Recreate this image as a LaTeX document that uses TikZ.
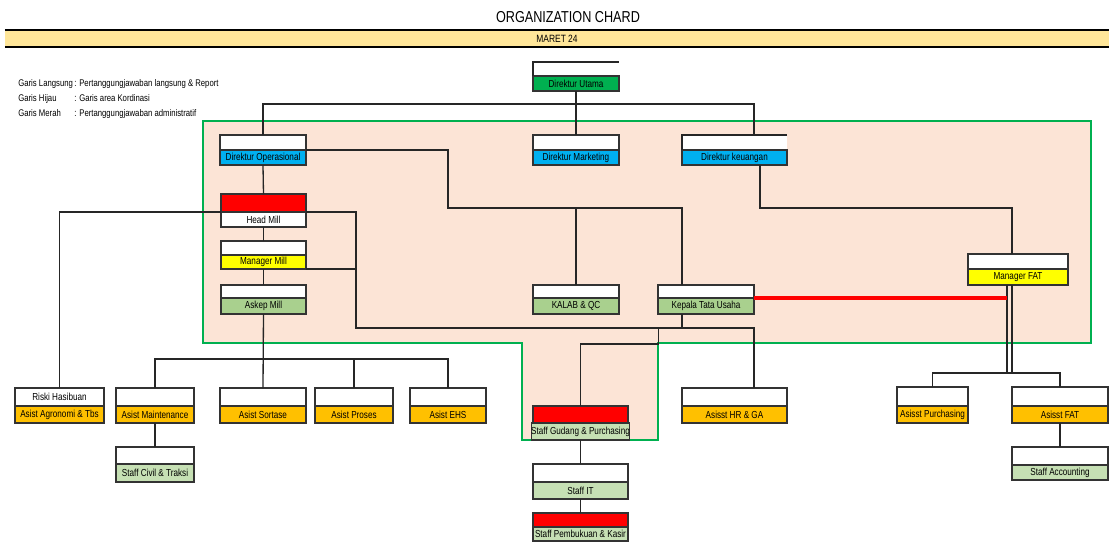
\documentclass[tikz,border=0pt]{standalone}
\usepackage{fontspec}
\setmainfont{Liberation Sans}[FakeStretch=0.8]
\usetikzlibrary{positioning, backgrounds}
\definecolor{areafill}{HTML}{FCE4D6}
\definecolor{areagreen}{HTML}{00B050}
\definecolor{topgreen}{HTML}{00B050}
\definecolor{dirblue}{HTML}{00B0F0}
\definecolor{mgryellow}{HTML}{FFFF00}
\definecolor{kasgreen}{HTML}{A9D08E}
\definecolor{staffgreen}{HTML}{C6E0B4}
\definecolor{asistorange}{HTML}{FFC000}
\definecolor{bandyellow}{HTML}{FFE699}
\newcommand{\legendkey}[1]{\makebox[1.12cm][l]{#1}}

\begin{document}
\begin{tikzpicture}[
    x=0.02cm, y=-0.02cm,
    cell/.style={rectangle, draw=black!80, line width=0.7pt, inner sep=0pt, outer sep=0pt, fill=white, text centered, font=\fontsize{5.8}{6.5}\selectfont, minimum width=1.72cm, minimum height=0.3cm},
    boxw/.style={minimum width=#1*0.02cm},
    boxh/.style={minimum height=#1*0.02cm},
    link/.style={draw=black!85, line width=0.75pt},
    adminline/.style={draw=red, line width=2.6pt},
    area/.style={fill=areafill, draw=areagreen, line width=1.4pt},
    band/.style={rectangle, fill=bandyellow, inner sep=0pt, minimum width=22.08cm, minimum height=0.32cm, font=\fontsize{6}{7}\selectfont},
    heavy/.style={draw=black, line width=1.5pt},
    legend/.style={anchor=west, inner sep=0pt, font=\fontsize{5.5}{6}\selectfont},
]
\useasboundingbox (0,0) rectangle (1109,542);

% Header
\node[font=\fontsize{9}{10}\selectfont] (title) at (568,17) {ORGANIZATION CHARD};
\node[band] (maret) at (557,38.5) {MARET 24};
\draw[heavy] (maret.north west) -- (maret.north east);
\draw[heavy] (maret.south west) -- (maret.south east);

% Legend
\node[legend] (leg1) at (18,84) {\legendkey{Garis Langsung}: Pertanggungjawaban langsung \& Report};
\node[legend] (leg2) at (18,99) {\legendkey{Garis Hijau}: Garis area Kordinasi};
\node[legend] (leg3) at (18,114) {\legendkey{Garis Merah}: Pertanggungjawaban administratif};

% Direksi
\node[cell, draw=none, boxh=14, anchor=north west] (dutama-up) at (533,62) {};
\node[cell, fill=topgreen, boxh=15, below=0pt of dutama-up] (dutama) {Direktur Utama};
\node[cell, anchor=north west] (dops-up) at (220,135) {};
\node[cell, fill=dirblue, below=0pt of dops-up] (dops) {Direktur Operasional};
\node[cell, anchor=north west] (dmkt-up) at (533,135) {};
\node[cell, fill=dirblue, below=0pt of dmkt-up] (dmkt) {Direktur Marketing};
\node[cell, draw=none, boxw=105, anchor=north west] (dkeu-up) at (682,135) {};
\node[cell, fill=dirblue, boxw=105, below=0pt of dkeu-up] (dkeu) {Direktur keuangan};
\draw[link] (dutama-up.north east) -- (dutama-up.north west) -- (dutama-up.south west);
\draw[link] (dkeu-up.north east) -- (dkeu-up.north west) -- (dkeu-up.south west);

% Mill
\node[cell, fill=red, boxw=85, boxh=18, anchor=north west] (headmill-up) at (221,194) {};
\node[cell, boxw=85, below=0pt of headmill-up] (headmill) {Head Mill};
\node[cell, boxw=85, boxh=14, anchor=north west] (mgrmill-up) at (221,241) {};
\node[cell, fill=mgryellow, boxw=85, boxh=14, below=0pt of mgrmill-up] (mgrmill) {Manager Mill};
\node[cell, boxw=85, boxh=13, anchor=north west] (askep-up) at (221,285) {};
\node[cell, fill=kasgreen, boxw=85, boxh=16, below=0pt of askep-up] (askep) {Askep Mill};

% Middle row
\node[cell, boxh=13, anchor=north west] (kalab-up) at (533,285) {};
\node[cell, fill=kasgreen, boxh=16, below=0pt of kalab-up] (kalab) {KALAB \& QC};
\node[cell, boxw=96, boxh=13, anchor=north west] (kepala-up) at (658,285) {};
\node[cell, fill=kasgreen, boxw=96, boxh=16, below=0pt of kepala-up] (kepala) {Kepala Tata Usaha};
\node[cell, boxw=100, anchor=north west] (mgrfat-up) at (968,254) {};
\node[cell, fill=mgryellow, boxw=100, boxh=16, below=0pt of mgrfat-up] (mgrfat) {Manager FAT};

% Asisten
\node[cell, boxw=89, boxh=18, anchor=north west] (riski-up) at (15,388) {Riski Hasibuan};
\node[cell, fill=asistorange, boxw=89, boxh=17, below=0pt of riski-up] (riski) {Asist Agronomi \& Tbs};
\node[cell, boxw=78, boxh=18, anchor=north west] (maint-up) at (116,388) {};
\node[cell, fill=asistorange, boxw=78, boxh=17, below=0pt of maint-up] (maint) {Asist Maintenance};
\node[cell, boxh=18, anchor=north west] (sortase-up) at (220,388) {};
\node[cell, fill=asistorange, boxh=17, below=0pt of sortase-up] (sortase) {Asist Sortase};
\node[cell, boxw=78, boxh=18, anchor=north west] (proses-up) at (315,388) {};
\node[cell, fill=asistorange, boxw=78, boxh=17, below=0pt of proses-up] (proses) {Asist Proses};
\node[cell, boxw=76, boxh=18, anchor=north west] (ehs-up) at (410,388) {};
\node[cell, fill=asistorange, boxw=76, boxh=17, below=0pt of ehs-up] (ehs) {Asist EHS};
\node[cell, boxw=78, boxh=17, anchor=north west] (civil-up) at (116,447) {};
\node[cell, fill=staffgreen, boxw=78, boxh=18, below=0pt of civil-up] (civil) {Staff Civil \& Traksi};
\node[cell, boxw=105, boxh=18, anchor=north west] (hrga-up) at (682,388) {};
\node[cell, fill=asistorange, boxw=105, boxh=17, below=0pt of hrga-up] (hrga) {Asisst HR \& GA};
\node[cell, boxw=71, boxh=19, anchor=north west] (purch-up) at (897,387) {};
\node[cell, fill=asistorange, boxw=71, boxh=17, below=0pt of purch-up] (purch) {Asisst Purchasing};
\node[cell, boxw=96, boxh=19, anchor=north west] (asfat-up) at (1012,387) {};
\node[cell, fill=asistorange, boxw=96, boxh=17, below=0pt of asfat-up] (asfat) {Asisst FAT};
\node[cell, boxw=96, boxh=18, anchor=north west] (acct-up) at (1012,447) {};
\node[cell, fill=staffgreen, boxw=96, boxh=15, below=0pt of acct-up] (acct) {Staff Accounting};

% Staff
\node[cell, fill=red, boxw=95, boxh=17, anchor=north west] (gudang-up) at (533,406) {};
\node[cell, fill=staffgreen, boxw=95, boxh=17, below=0pt of gudang-up] (gudang) {Staff Gudang \& Purchasing};
\node[cell, boxw=95, boxh=18, anchor=north west] (it-up) at (533,464) {};
\node[cell, fill=staffgreen, boxw=95, boxh=17, below=0pt of it-up] (it) {Staff IT};
\node[cell, fill=red, boxw=95, boxh=14, anchor=north west] (kasir-up) at (533,513) {};
\node[cell, fill=staffgreen, boxw=95, boxh=14, below=0pt of kasir-up] (kasir) {Staff Pembukuan \& Kasir};

% Area koordinasi
\begin{scope}[on background layer]
\fill[white] (0,0) rectangle (1109,542);
\filldraw[area] (203,121) -- (1091,121) -- (1091,343) -- (658,343) -- (658,440) -- (522,440) -- (522,343) -- (203,343) -- cycle;
\end{scope}

% Garis langsung
\draw[link] (dops-up.north) -- ++(0,-31) -| ([xshift=0.39cm]dkeu-up.north);
\draw[link] (dutama.south) -- (dmkt-up.north);
\draw[link] (dops.south) -- (headmill-up.north);
\draw[link] (headmill.south) -- (mgrmill-up.north);
\draw[link] (mgrmill.south) -- (askep-up.north);
\draw[link] (askep.south) -- (sortase-up.north);
\draw[link] (maint-up.north) -- ++(0,-29) -| (ehs-up.north);
\draw[link] (proses-up.north) -- ++(0,-29);
\draw[link] (maint.south) -- (civil-up.north);
\draw[link] (headmill-up.south west) -| (riski-up.north);
\draw[link] (headmill-up.south east) -- ++(50,0) -- ++(0,116) -| ([xshift=0.39cm]hrga-up.north);
\draw[link] (mgrmill.south east) -- ++(50,0);
\draw[link] (dops-up.south east) -- ++(142,0) -- ++(0,58) -| ([xshift=-0.48cm]kepala-up.north);
\draw[link] (kalab-up.north) -- ++(0,-77);
\draw[link] ([xshift=0.51cm]dkeu.south) -- ++(0,43) -| ([xshift=-0.12cm]mgrfat-up.north);
\draw[link] ([xshift=-0.48cm]kepala.south) -- ++(0,14);
\draw[link] (gudang-up.north) -- ++(0,-62) -| ++(78,-16);
\draw[link] (gudang.south) -- (it-up.north);
\draw[link] (it.south) -- (kasir-up.north);
\coordinate (fatL) at ([xshift=-0.22cm]mgrfat.south);
\coordinate (fatR) at ([xshift=-0.12cm]mgrfat.south);
\draw[link] (fatL) -- ++(0,88);
\draw[link] (fatR) -- ++(0,88);
\draw[link] (purch-up.north) -- ++(0,-14) -| (asfat-up.north);
\draw[link] (asfat.south) -- (acct-up.north);

% Garis merah
\draw[adminline] (kepala-up.south east) -- (kepala-up.south east -| fatL);

\end{tikzpicture}
\end{document}
